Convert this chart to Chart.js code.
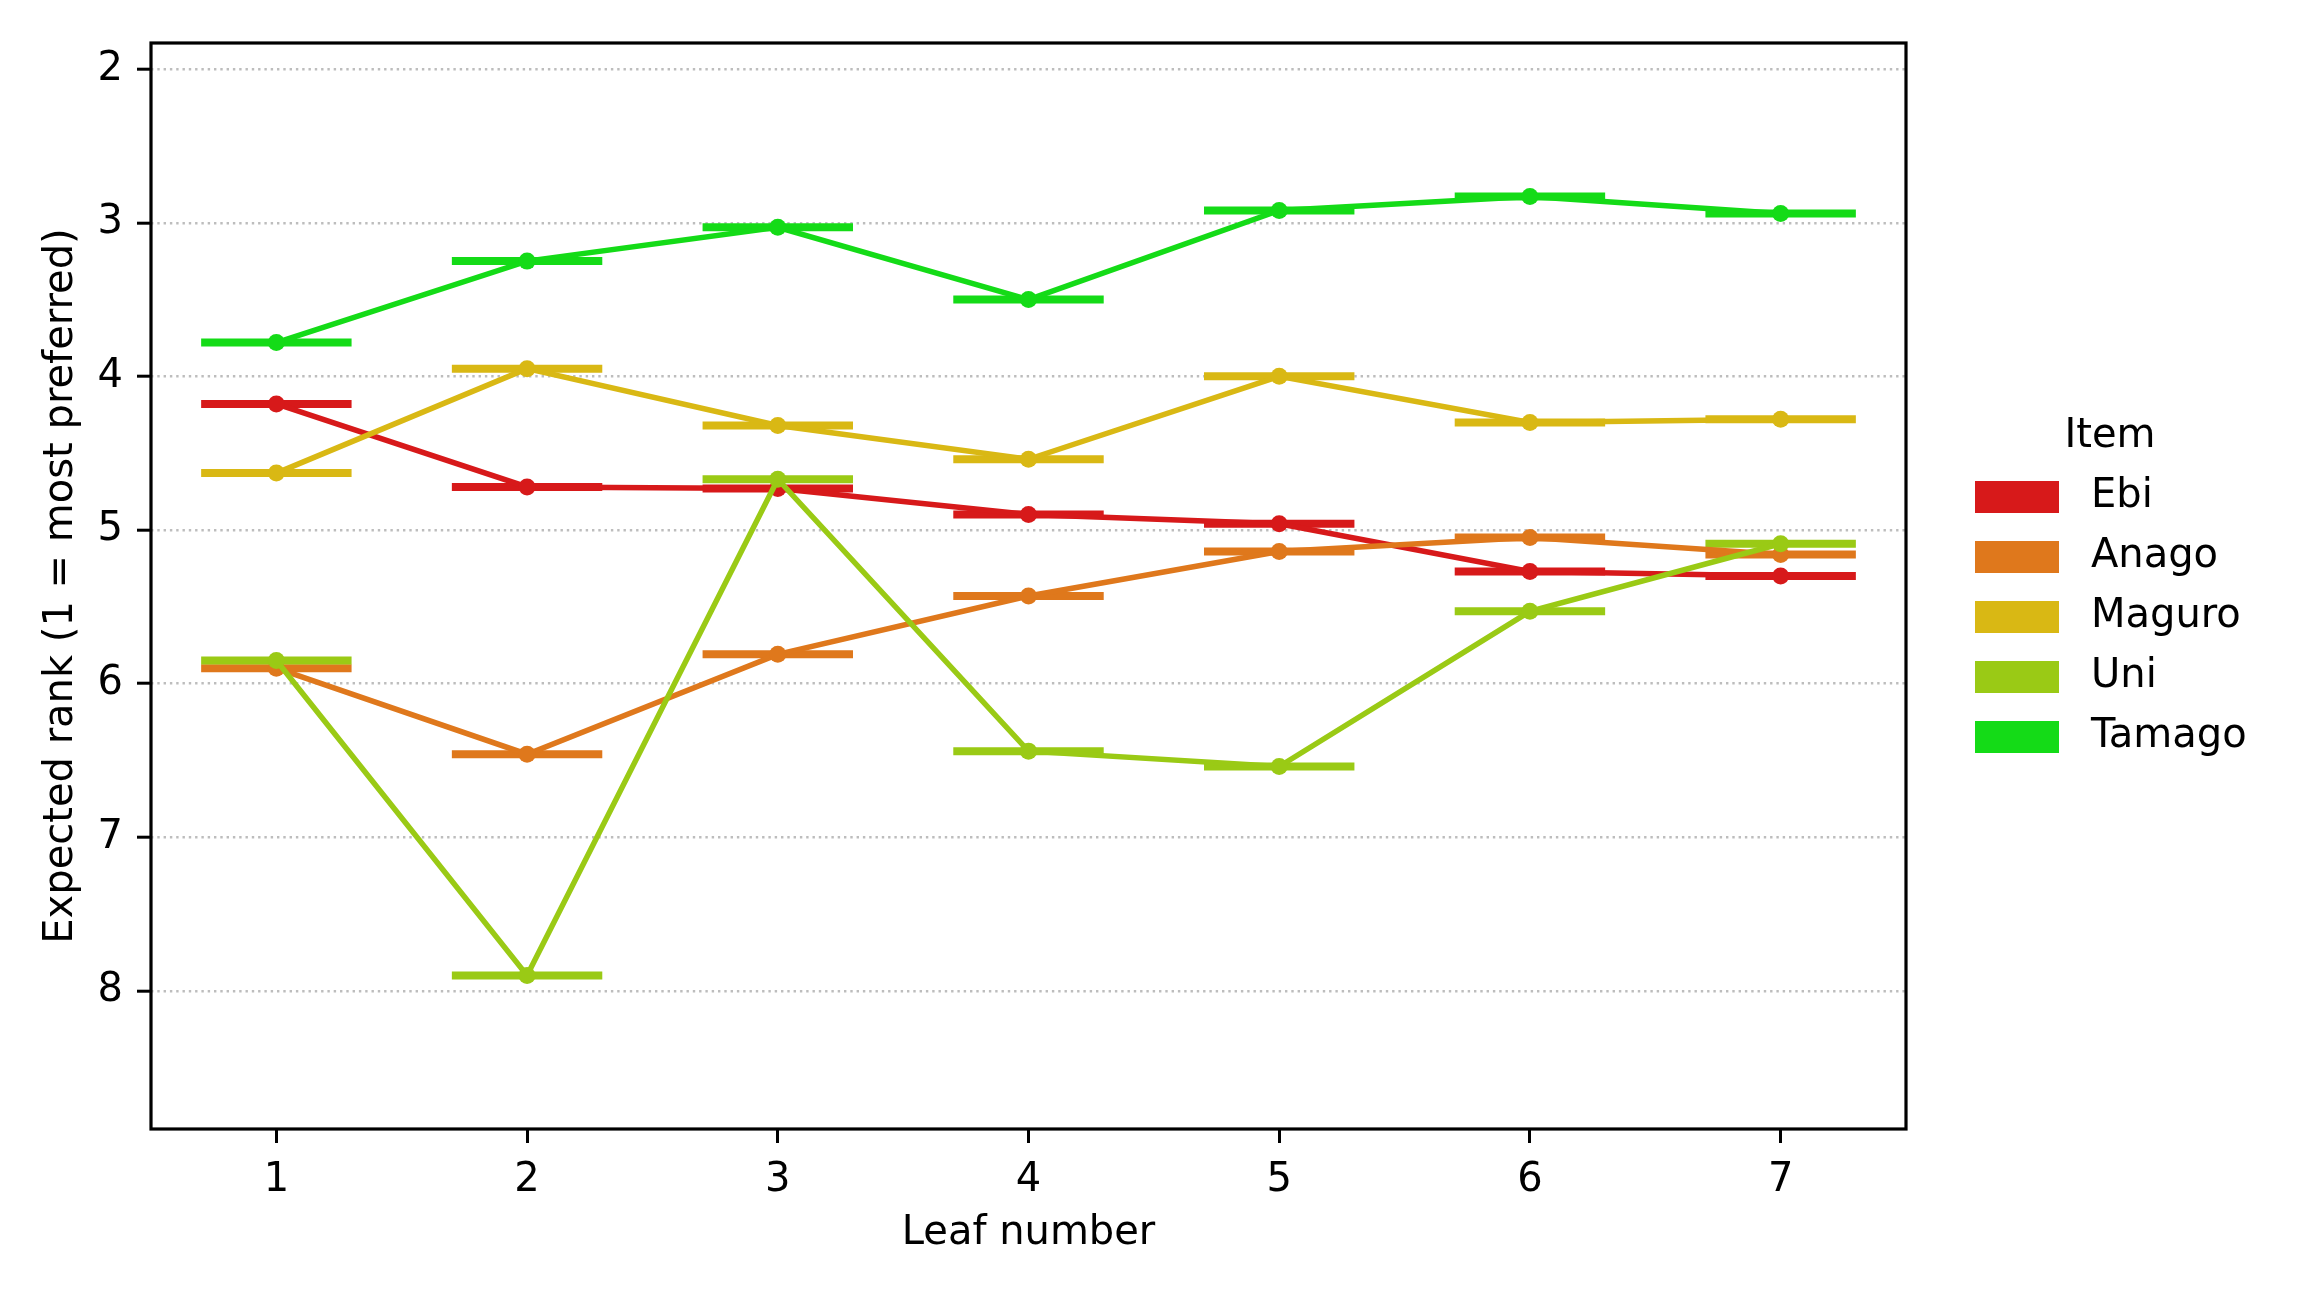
<!DOCTYPE html>
<html>
<head>
<meta charset="utf-8">
<title>Expected rank by leaf number</title>
<script src="https://cdn.jsdelivr.net/npm/chart.js@4.4.1/dist/chart.umd.min.js"></script>
<style>
  html, body { margin: 0; padding: 0; background: #fff; }
  #wrap { width: 2304px; height: 1296px; }
</style>
</head>
<body>
<div id="wrap"><canvas id="rankChart" width="2304" height="1296"></canvas></div>
<script>
// values
const leaves = [1, 2, 3, 4, 5, 6, 7];
const items = ['Ebi', 'Anago', 'Maguro', 'Uni', 'Tamago'];
const ebi    = [4.18, 4.72, 4.73, 4.90, 4.96, 5.27, 5.30];
const anago  = [5.90, 6.46, 5.81, 5.43, 5.14, 5.05, 5.16];
const maguro = [4.63, 3.95, 4.32, 4.54, 4.00, 4.30, 4.28];
const uni    = [5.85, 7.90, 4.67, 6.44, 6.54, 5.53, 5.09];
const tamago = [3.78, 3.25, 3.03, 3.50, 2.92, 2.83, 2.94];
const xTicks = [1, 2, 3, 4, 5, 6, 7];
const yTicks = [2, 3, 4, 5, 6, 7, 8];

const seriesValues = [ebi, anago, maguro, uni, tamago];
const itemColors = ['#d7191a', '#df781c', '#d9b814', '#9aca15', '#14db17'];
const BAR_HALF = 0.3; // half width of the horizontal marker, in leaf units

Chart.defaults.font.family = "'DejaVu Sans', sans-serif";
Chart.defaults.font.size = 40;
Chart.defaults.color = '#000';

// y range like matplotlib here: one unit of room beyond the data
const allVals = seriesValues.flat();
const yMin = Math.min(...allVals) - 1;
const yMax = Math.max(...allVals) + 1;

const barSegments = (vals) => {
    const pts = [];
    leaves.forEach((x, i) => {
        pts.push({ x: x - BAR_HALF, y: vals[i] });
        pts.push({ x: x + BAR_HALF, y: vals[i] });
        pts.push({ x: x + BAR_HALF, y: null });
    });
    return pts;
};

const datasets = [];
items.forEach((name, k) => {
    datasets.push({
        label: name + ' bar',
        data: barSegments(seriesValues[k]),
        borderColor: itemColors[k],
        borderWidth: 8,
        pointRadius: 0,
        spanGaps: false,
        order: 20 - k
    });
});
items.forEach((name, k) => {
    datasets.push({
        label: name,
        data: leaves.map((x, i) => ({ x: x, y: seriesValues[k][i] })),
        borderColor: itemColors[k],
        backgroundColor: itemColors[k],
        pointBackgroundColor: itemColors[k],
        pointBorderWidth: 0,
        pointRadius: 8.5,
        borderWidth: 5.5,
        tension: 0,
        order: 10 - k
    });
});

// axes frame on all four sides
const framePlugin = {
    id: 'frame',
    afterDatasetsDraw(chart) {
        const { ctx, chartArea: a } = chart;
        ctx.save();
        ctx.strokeStyle = '#000';
        ctx.lineWidth = 3.2;
        ctx.strokeRect(a.left, a.top, a.right - a.left, a.bottom - a.top);
        ctx.restore();
    }
};

// legend to the right of the axes, titled "Item"
const legendPlugin = {
    id: 'itemLegend',
    afterDraw(chart) {
        const { ctx, chartArea } = chart;
        const x0 = chartArea.right + 69;
        const cy = (chartArea.top + chartArea.bottom) / 2 + 5;
        ctx.save();
        ctx.font = "40px 'DejaVu Sans', sans-serif";
        ctx.textBaseline = 'middle';
        ctx.fillStyle = '#000';
        ctx.textAlign = 'center';
        ctx.fillText('Item', x0 + 135, cy - 154);
        ctx.textAlign = 'left';
        items.forEach((name, i) => {
            const y = cy - 94 + i * 60;
            ctx.fillStyle = itemColors[i];
            ctx.fillRect(x0, y - 16, 84, 32);
            ctx.fillStyle = '#000';
            ctx.fillText(name, x0 + 116, y);
        });
        ctx.restore();
    }
};

const ctx = document.getElementById('rankChart').getContext('2d');
new Chart(ctx, {
    type: 'line',
    data: { datasets: datasets },
    options: {
        responsive: false,
        animation: false,
        devicePixelRatio: 1,
        layout: { padding: { left: 0, top: 43, right: 398, bottom: 0 } },
        plugins: {
            legend: { display: false },
            tooltip: { enabled: false }
        },
        scales: {
            x: {
                type: 'linear',
                min: 0.5,
                max: 7.5,
                afterBuildTicks: (s) => { s.ticks = xTicks.map(v => ({ value: v })); },
                afterFit: (s) => { s.height = 167; },
                grid: { drawOnChartArea: false, drawTicks: true, tickLength: 14, tickWidth: 3, tickColor: '#000' },
                border: { display: false },
                ticks: { padding: 14, maxRotation: 0, autoSkip: false, color: '#000' },
                title: { display: true, text: 'Leaf number', color: '#000', padding: { top: 0, bottom: 38 } }
            },
            y: {
                type: 'linear',
                reverse: true,
                min: yMin,
                max: yMax,
                afterBuildTicks: (s) => { s.ticks = yTicks.map(v => ({ value: v })); },
                afterFit: (s) => { s.width = 151; },
                grid: {
                    color: '#bdbdbd', lineWidth: 2.4,
                    drawTicks: true, tickLength: 14, tickWidth: 3, tickColor: '#000', tickBorderDash: []
                },
                border: { display: false, dash: [2.4, 3.9] },
                ticks: { padding: 14, color: '#000' },
                title: { display: true, text: 'Expected rank (1 = most preferred)', color: '#000', padding: { top: 38, bottom: 0 } }
            }
        }
    },
    plugins: [framePlugin, legendPlugin]
});
</script>
</body>
</html>
